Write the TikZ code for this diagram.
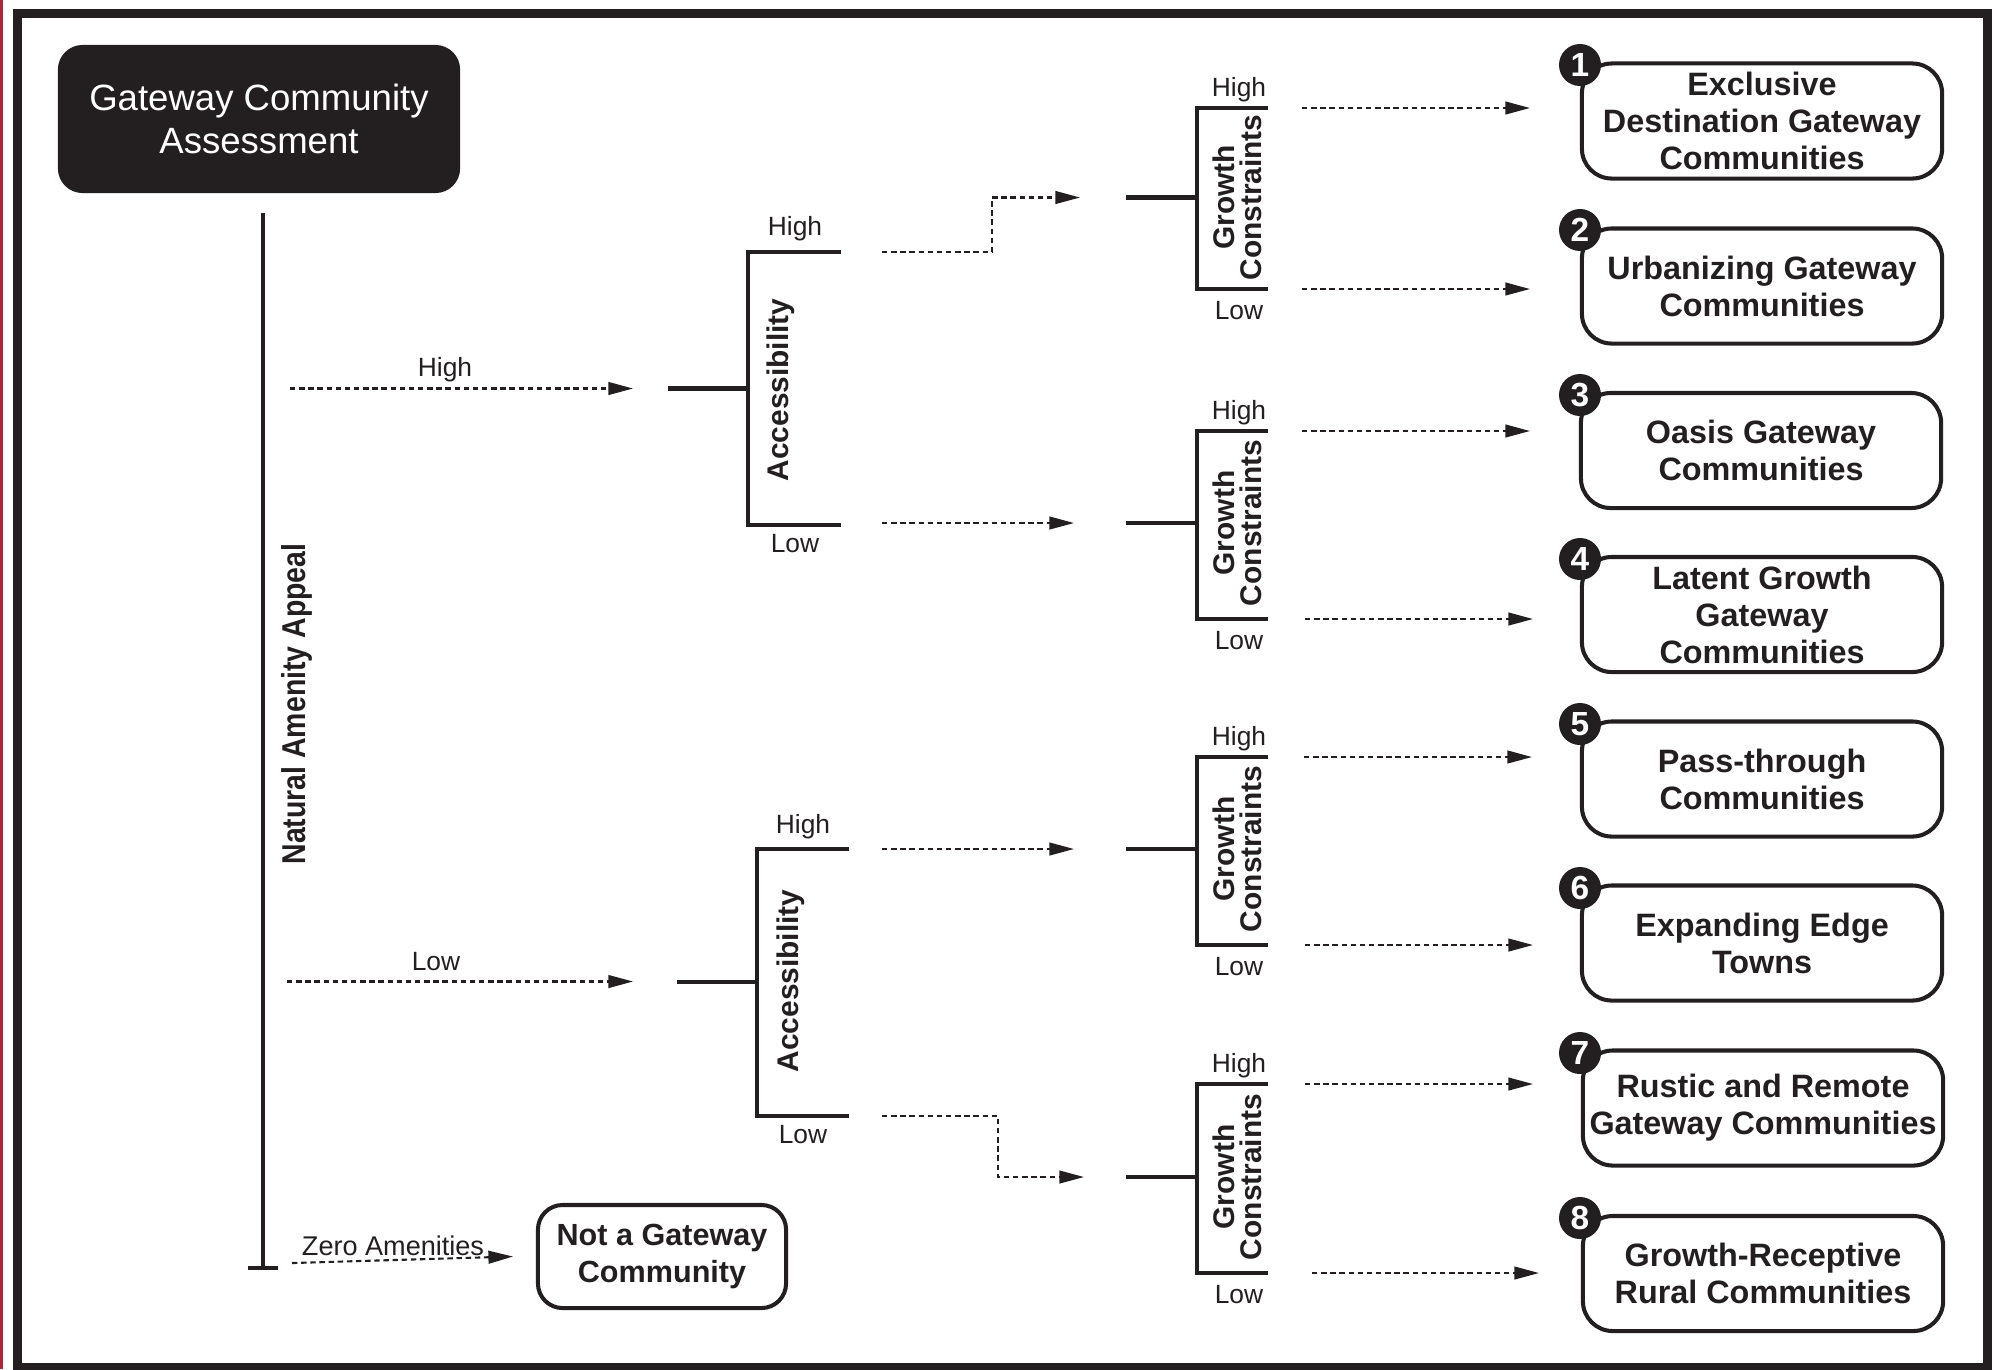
\documentclass[tikz,border=0pt]{standalone}
\usepackage{fontspec}
\usepackage{graphicx}
\setmainfont{Liberation Sans}
\usetikzlibrary{arrows.meta}
\definecolor{ink}{RGB}{35,31,32}
\definecolor{edgered}{RGB}{178,36,56}
\begin{document}
\begin{tikzpicture}[x=0.01cm,y=-0.01cm,
  brk/.style={line width=1.15pt, draw=ink},
  darr/.style={draw=ink, line width=0.6pt, dash pattern=on 1.55pt off 1.05pt, -{Triangle[length=7pt,width=3.6pt]}},
  lbl/.style={font=\fontsize{7.5}{9}\selectfont, text=ink, inner sep=0pt, anchor=base},
  vlab/.style={font=\fontsize{8.5}{7.6}\selectfont\bfseries, text=ink, rotate=90, align=center, inner sep=0pt},
  outbox/.style={draw=ink, line width=1.15pt, rounded corners=8.5pt, minimum width=3.60cm, minimum height=1.15cm, align=center, font=\fontsize{9.2}{10.5}\selectfont\bfseries, text=ink, inner sep=0pt},
  numc/.style={circle, fill=ink, text=white, minimum size=0.42cm, inner sep=0pt, font=\fontsize{9.5}{10}\selectfont\bfseries},
]
\useasboundingbox (0,0) rectangle (1998,1369);
% page edge and frame
\fill[edgered] (0,0) rectangle (3.3,1369);
\draw[line width=2.56pt, draw=ink] (17.5,13.5) rectangle (1987.5,1367);

% title
\node[fill=ink, rounded corners=7pt, minimum width=4.02cm, minimum height=1.48cm, align=center, text=white, inner sep=0pt,
  font=\fontsize{10.4}{12.2}\selectfont] (title) at (259,119) {Gateway Community\\Assessment};

% main vertical axis
\coordinate (mtop) at (263,213);
\coordinate (mbot) at (263,1268);
\coordinate (tl) at (248,1268);
\coordinate (tr) at (278,1268);
\draw[brk] (mtop) -- (mbot);
\draw[brk, line width=1.3pt] (tl) -- (tr);
\node[font=\fontsize{9.4}{10}\selectfont\bfseries, text=ink, rotate=90, inner sep=0pt] (naa) at (297,704) {\scalebox{0.86}[1]{Natural Amenity Appeal}};

% level-1 arrows
\coordinate (h1s) at (290,388.5);
\coordinate (h1e) at (633,388.5);
\coordinate (l1s) at (287,981.5);
\coordinate (l1e) at (633,981.5);
\coordinate (z1s) at (292,1263);
\draw[darr] (h1s) -- (h1e);
\draw[darr] (l1s) -- (l1e);
\node[lbl] (hl1) at (445,376) {High};
\node[lbl] (ll1) at (436,970) {Low};
\node[lbl, font=\fontsize{7.7}{9}\selectfont] (zl1) at (393,1255) {Zero Amenities};

% not a gateway
\node[draw=ink, line width=1.15pt, rounded corners=7pt, minimum width=2.48cm, minimum height=1.03cm, align=center, inner sep=0pt,
  font=\fontsize{8.7}{10.5}\selectfont\bfseries, text=ink] (nag) at (662,1256.5) {Not a Gateway\\Community};
\draw[darr] (z1s) -- (nag.west -| 513,0);

% Accessibility bracket A (upper)
\coordinate (aAs) at (668,388.5);
\coordinate (aAm) at (748,388.5);
\coordinate (aAt) at (748,252);
\coordinate (aAb) at (748,525);
\coordinate (aAte) at (841,252);
\coordinate (aAbe) at (841,525);
\draw[brk] (aAs) -- (aAm);
\draw[brk] (aAte) -- (aAt) -- (aAb) -- (aAbe);
\node[vlab] (accA) at (781,390) {Accessibility};
\node[lbl] (accAh) at (795,235) {High};
\node[lbl] (accAl) at (795,552) {Low};

% Accessibility bracket B (lower)
\coordinate (aBs) at (677,981.5);
\coordinate (aBm) at (757,981.5);
\coordinate (aBt) at (757,849);
\coordinate (aBb) at (757,1116);
\coordinate (aBte) at (849,849);
\coordinate (aBbe) at (849,1116);
\draw[brk] (aBs) -- (aBm);
\draw[brk] (aBte) -- (aBt) -- (aBb) -- (aBbe);
\node[vlab] (accB) at (791,981) {Accessibility};
\node[lbl] (accBh) at (803,833) {High};
\node[lbl] (accBl) at (803,1143) {Low};

% arrows from accessibility to growth constraints
\coordinate (ahs) at (882,252);
\coordinate (ahk1) at (992,252);
\coordinate (ahk2) at (992,197.5);
\coordinate (ahe) at (1080,197.5);
\draw[darr] (ahs) -- (ahk1) -- (ahk2) -- (ahe);
\coordinate (als) at (882,523);
\coordinate (ale) at (1074,523);
\draw[darr] (als) -- (ale);
\coordinate (bhs) at (882,849);
\coordinate (bhe) at (1074,849);
\draw[darr] (bhs) -- (bhe);
\coordinate (bls) at (882,1116);
\coordinate (blk1) at (998,1116);
\coordinate (blk2) at (998,1177);
\coordinate (ble) at (1084,1177);
\draw[darr] (bls) -- (blk1) -- (blk2) -- (ble);

% Growth constraints brackets
\foreach \k/\t/\b/\s in {1/108/289/197.5, 2/431/619/523, 3/757/945/849, 4/1084/1273/1177} {
  \coordinate (g\k s) at (1126,\s);
  \coordinate (g\k m) at (1197,\s);
  \coordinate (g\k t) at (1197,\t);
  \coordinate (g\k b) at (1197,\b);
  \coordinate (g\k te) at (1268,\t);
  \coordinate (g\k be) at (1268,\b);
  \draw[brk] (g\k s) -- (g\k m);
  \draw[brk] (g\k te) -- (g\k t) -- (g\k b) -- (g\k be);
  \node[vlab] (gc\k) at (1237,\s) {Growth\\Constraints};
  \node[lbl] (gh\k) at (1239,\t-12) {High};
  \node[lbl] (gl\k) at (1239,\b+30) {Low};
}

% output boxes
\node[outbox] (b1) at (1762,121) {Exclusive\\Destination Gateway\\Communities};
\node[outbox] (b2) at (1762,286) {Urbanizing Gateway\\Communities};
\node[outbox] (b3) at (1761,450.5) {Oasis Gateway\\Communities};
\node[outbox] (b4) at (1762,614.5) {Latent Growth\\Gateway\\Communities};
\node[outbox] (b5) at (1762,779) {Pass-through\\Communities};
\node[outbox] (b6) at (1762,943) {Expanding Edge\\Towns};
\node[outbox] (b7) at (1763,1108) {Rustic and Remote\\Gateway Communities};
\node[outbox] (b8) at (1763,1273.5) {Growth-Receptive\\Rural Communities};

\foreach \k/\yy in {1/65, 2/230, 3/395, 4/559, 5/724, 6/888, 7/1053, 8/1218} {
  \node[numc] (n\k) at (1580,\yy) {\k};
}

% arrows to boxes
\foreach \k/\y/\xs/\xe in {1/108/1302/1530, 2/289/1302/1530, 3/431/1302/1530, 4/619/1305/1533, 5/757/1304/1532, 6/945/1305/1533, 7/1084/1305/1533, 8/1273/1312/1539} {
  \coordinate (o\k s) at (\xs,\y);
  \coordinate (o\k e) at (\xe,\y);
  \draw[darr] (o\k s) -- (o\k e);
}
\end{tikzpicture}
\end{document}
